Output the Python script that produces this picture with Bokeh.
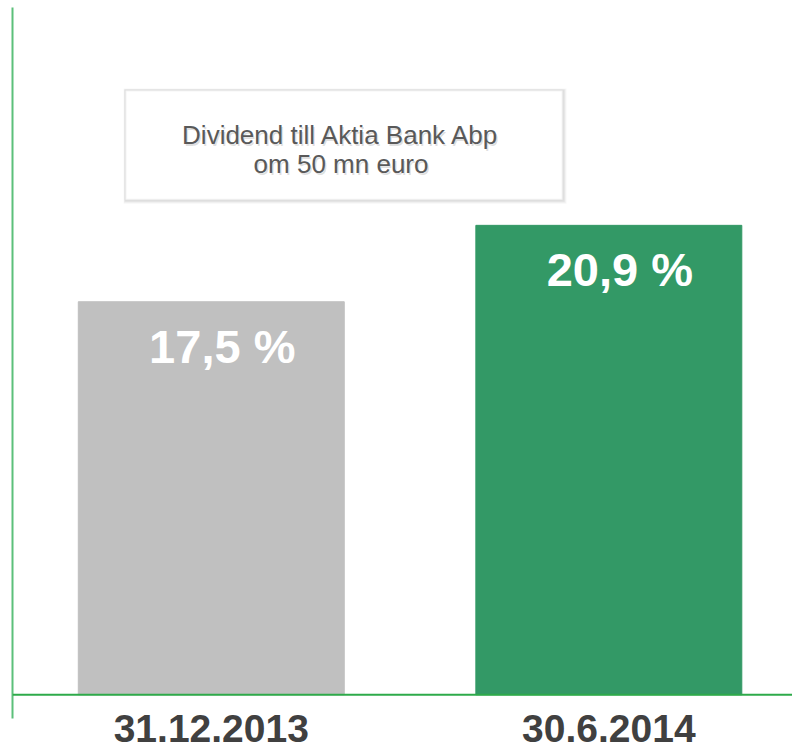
from bokeh.plotting import figure
from bokeh.models import (Range1d, ColumnDataSource, LabelSet, Label, BoxAnnotation,
                          FixedTicker, Span)
from bokeh.core.properties import value
from bokeh.embed import file_html
from bokeh.resources import INLINE

# ---- data ----
categories = ["31.12.2013", "30.6.2014"]
values = [17.5, 20.9]
value_labels = ["17,5 %", "20,9 %"]
note_lines = ["Dividend till Aktia Bank Abp", "om 50 mn euro"]

# ---- styles ----
bar_colors = ["#c0c0c0", "#339966"]

xpos = [i + 0.5 for i in range(len(categories))]

p = figure(frame_width=780, frame_height=711, output_backend="svg", toolbar_location=None,
           x_range=Range1d(0, 1.962), y_range=Range1d(-1.057, 30.6),
           min_border_left=12, min_border_right=0, min_border_top=7, min_border_bottom=0,
           outline_line_color=None, background_fill_color="white", border_fill_color="white")
p.grid.visible = False

# y axis: plain green line, no ticks
p.yaxis.ticker = FixedTicker(ticks=[])
p.yaxis.minor_tick_line_color = None
p.yaxis.major_tick_line_color = None
p.yaxis.axis_line_color = "#5cc07a"
p.yaxis.axis_line_width = 2

# bottom axis carries the category labels
p.xaxis.ticker = FixedTicker(ticks=xpos)
p.xaxis.major_label_overrides = {x: c for x, c in zip(xpos, categories)}
p.xaxis.axis_line_color = None
p.xaxis.major_tick_line_color = None
p.xaxis.minor_tick_line_color = None
p.xaxis.major_tick_in = 0
p.xaxis.major_tick_out = 0
p.xaxis.major_label_standoff = -4
p.xaxis.major_label_text_font = "Helvetica"
p.xaxis.major_label_text_font_style = "bold"
p.xaxis.major_label_text_font_size = "39px"
p.xaxis.major_label_text_color = "#404040"

# x axis line at y = 0
p.add_layout(Span(location=0, dimension="width", line_color="#2eaa4a", line_width=2))

src = ColumnDataSource(dict(x=xpos, top=values, color=bar_colors, lab=value_labels))
p.vbar(x="x", top="top", bottom=0, width=0.669, color="color", source=src)

p.add_layout(LabelSet(x="x", y="top", text="lab", source=src, text_align="center",
                      text_baseline="alphabetic", x_offset=11, y_offset=-61,
                      text_font=value("Liberation Sans"), text_font_style="bold",
                      text_font_size="47px", text_color="white"))

# note box with soft shadow
bl, br, bt, bb = 0.2843, 1.3836, 26.90, 22.04
for k, a in [(4, 0.03), (3, 0.04), (2, 0.05)]:
    dx = k / 397.5
    dy = k / 22.43
    p.add_layout(BoxAnnotation(left=bl - dx * 0.5, right=br + dx, top=bt + dy * 0.5, bottom=bb - dy,
                               fill_color="black", fill_alpha=a, line_color=None, level="overlay"))
p.add_layout(BoxAnnotation(left=bl, right=br, top=bt, bottom=bb, fill_color="white", fill_alpha=1,
                           line_color="#d9d9d9", line_width=2, level="overlay"))

note_x = (341.5 - 13) / 397.5
note_y = [(694.3 - 135) / 22.43, (694.3 - 164) / 22.43]
for i, t in enumerate(note_lines):
    p.add_layout(Label(x=note_x, y=note_y[i], text=t, text_align="center", text_baseline="alphabetic",
                       x_offset=1.5, y_offset=-2, text_font="Liberation Sans", text_font_size="26px",
                       text_color="black", text_alpha=0.12, level="overlay"))
    p.add_layout(Label(x=note_x, y=note_y[i], text=t, text_align="center", text_baseline="alphabetic",
                       text_font="Liberation Sans", text_font_size="26px",
                       text_color="#595959", level="overlay"))

open("out.html", "w").write(file_html(p, INLINE))
